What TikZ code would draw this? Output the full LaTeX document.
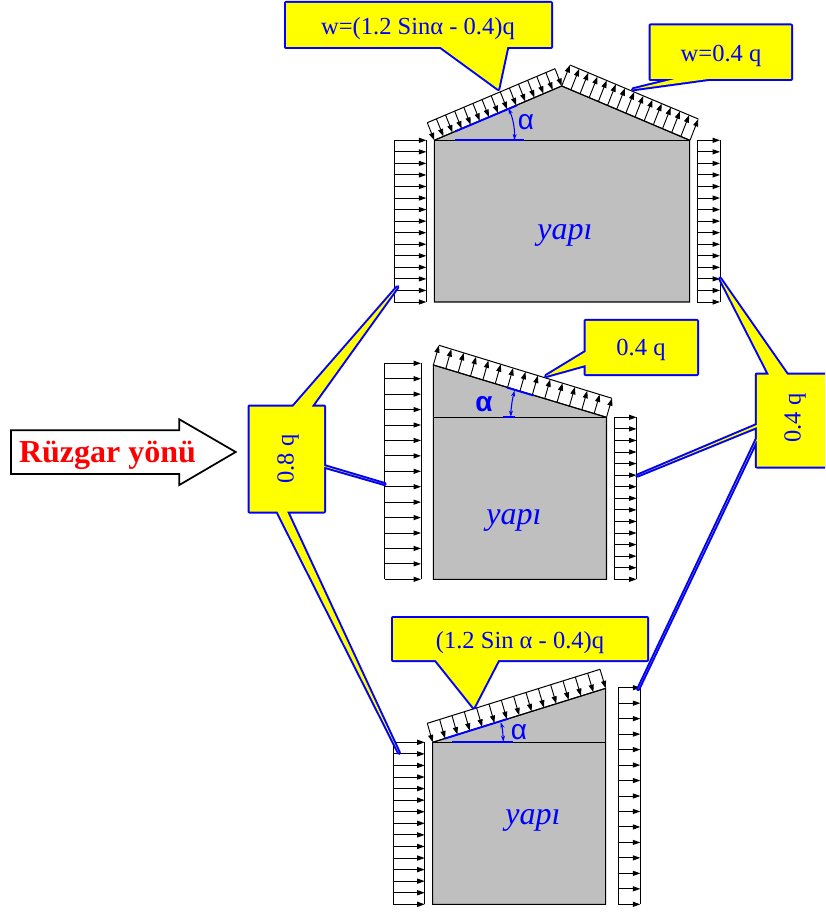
\documentclass[tikz,border=0pt]{standalone}
\usepackage{fontspec}
\setmainfont{Liberation Serif}
\newfontfamily\alphafont{Liberation Sans}
\usetikzlibrary{arrows.meta,calc}
\definecolor{wallgray}{RGB}{191,191,191}
\definecolor{callyellow}{RGB}{255,255,0}
\definecolor{callblue}{RGB}{0,0,255}
\definecolor{windred}{RGB}{255,0,0}
\tikzset{
  building/.style={draw=black,fill=wallgray,line width=0.8pt},
  ledge/.style={draw=black,line width=0.75pt},
  loadarrow/.style={draw=black,line width=0.7pt,-{Triangle[length=5.6pt,width=3.8pt]}},
  calledge/.style={draw=callblue,line width=3pt,line join=round},
  callfill/.style={fill=callyellow},
  calltext/.style={text=callblue,font=\fontsize{18.4}{20}\selectfont,inner sep=0pt},
  anglemark/.style={draw=callblue,line width=1.4pt},
  anglearc/.style={draw=callblue,line width=0.8pt,{Stealth[length=4.5pt,width=3pt]}-{Stealth[length=4.5pt,width=3pt]}},
  alphalabel/.style={text=callblue,font=\alphafont\fontsize{21}{23}\selectfont,inner sep=0pt},
  yapilabel/.style={text=callblue,font=\itshape\fontsize{24}{26}\selectfont,inner sep=0pt},
  windarrow/.style={draw=black,fill=white,line width=1.3pt,line join=miter},
  windtext/.style={text=windred,font=\bfseries\fontsize{24}{26}\selectfont,inner sep=0pt}
}
\newcommand{\loadpanel}[4]{%
  \draw[ledge] (#1) -- (#2);
  \draw[ledge] (#3) -- (#4);
  \foreach \k in {0,...,14}{
    \draw[loadarrow] ($(#1)!\k/14!(#2)$) -- ($(#3)!\k/14!(#4)$);
  }}
\newcommand{\callshape}[1]{\draw[calledge] #1; \fill[callfill] #1;}
\begin{document}
\begin{tikzpicture}[x=0.75pt,y=-0.75pt]
\useasboundingbox (0,0) rectangle (825,912);
\clip (0,0) rectangle (825,912);

% ---- top building
\draw[building] (434.3,140.3) -- (561.7,86) -- (689.7,140.3) -- (689.7,302) -- (434.3,302) -- cycle;
\draw[ledge] (434.3,140.3) -- (689.7,140.3);
\coordinate (ta) at (427.3,122.7); \coordinate (tb) at (555,68.7);
\coordinate (tc) at (434.3,140.3); \coordinate (td) at (561.7,86);
\loadpanel{ta}{tb}{tc}{td}
\coordinate (te) at (561.7,86); \coordinate (tf) at (690,140.3);
\coordinate (tg) at (570,65); \coordinate (th) at (698.3,119);
\loadpanel{te}{tf}{tg}{th}
\coordinate (tla) at (394,140.3); \coordinate (tlb) at (394,302);
\coordinate (tlc) at (426.3,140.3); \coordinate (tld) at (426.3,302);
\loadpanel{tla}{tlb}{tlc}{tld}
\coordinate (tra) at (697.3,140.3); \coordinate (trb) at (697.3,302);
\coordinate (trc) at (720,140.3); \coordinate (trd) at (720,302);
\loadpanel{tra}{trb}{trc}{trd}
\draw[anglemark] (455,131.5) -- (516.7,105.5);
\draw[anglemark] (455,140.3) -- (524,140.3);
\draw[anglearc] (508.3,108.3) .. controls (513,118) and (515,130) .. (514.3,140);
\node[alphalabel] (alphatop) at (526,122.5) {α};
\node[yapilabel] (yapitop) at (565,235) {yapı};

% ---- middle building
\draw[building] (433.4,365) -- (606.5,417.3) -- (606.5,579.3) -- (433.4,579.3) -- cycle;
\draw[ledge] (433.4,417.3) -- (606.5,417.3);
\coordinate (ma) at (433.4,365); \coordinate (mb) at (606.5,417.3);
\coordinate (mc) at (439,345.3); \coordinate (md) at (612,398.3);
\loadpanel{ma}{mb}{mc}{md}
\coordinate (mla) at (384.5,363.3); \coordinate (mlb) at (384.5,579.3);
\coordinate (mlc) at (421,363.3); \coordinate (mld) at (421,579.3);
\loadpanel{mla}{mlb}{mlc}{mld}
\coordinate (mra) at (614.4,417.3); \coordinate (mrb) at (614.4,579.3);
\coordinate (mrc) at (636.5,417.3); \coordinate (mrd) at (636.5,579.3);
\loadpanel{mra}{mrb}{mrc}{mrd}
\draw[anglemark] (507,387.6) -- (533.6,395.5);
\draw[anglemark] (502.5,417) -- (515.4,417);
\draw[anglearc] (514.6,390.7) .. controls (512.5,398) and (511,408) .. (510.8,416.7);
\node[alphalabel,font=\alphafont\bfseries\fontsize{21}{23}\selectfont] (alphamid) at (484,404) {α};
\node[yapilabel] (yapimid) at (514,520) {yapı};

% ---- bottom building
\draw[building] (432.7,742.3) -- (605.7,688.3) -- (605.7,904.3) -- (432.7,904.3) -- cycle;
\draw[ledge] (432.7,742.3) -- (605.7,742.3);
\coordinate (ba) at (427.3,723.3); \coordinate (bb) at (600,669.3);
\coordinate (bc) at (432.7,742.3); \coordinate (bd) at (605.7,688.3);
\loadpanel{ba}{bb}{bc}{bd}
\coordinate (bla) at (393.3,742.3); \coordinate (blb) at (393.3,904.3);
\coordinate (blc) at (424.7,742.3); \coordinate (bld) at (424.7,904.3);
\loadpanel{bla}{blb}{blc}{bld}
\coordinate (bra) at (618.3,687.7); \coordinate (brb) at (618.3,904.3);
\coordinate (brc) at (640.3,687.7); \coordinate (brd) at (640.3,904.3);
\loadpanel{bra}{brb}{brc}{brd}
\draw[anglemark] (445,738.5) -- (508.3,718.7);
\draw[anglemark] (451.7,742.3) -- (512.7,742.3);
\draw[anglearc] (500.7,722.3) .. controls (502.5,728) and (503,735) .. (503.3,741.7);
\node[alphalabel] (alphabot) at (519,732) {α};
\node[yapilabel] (yapibot) at (533,820) {yapı};

% ---- callouts
\callshape{(286,3) -- (551,3) -- (551,47) -- (507.3,47) -- (498.3,89) -- (440.7,47) -- (286,47) -- cycle}
\node[calltext] (cwone) at (418,29) {w=(1.2 Sinα - 0.4)q};

\callshape{(650.5,25.5) -- (791,25.5) -- (791,79) -- (708.3,79) -- (633,89.3) -- (675,79) -- (650.5,79) -- cycle}
\node[calltext] (cwtwo) at (721,56) {w=0.4 q};

\callshape{(585.5,321) -- (697,321) -- (697,374) -- (585.5,374) -- (585.5,365) -- (546,376) -- (585.5,352) -- cycle}
\node[calltext] (cmid) at (641,350) {0.4 q};

\callshape{(393,618) -- (647,618) -- (647,660) -- (498.3,660) -- (473.7,707.5) -- (435.7,660) -- (393,660) -- cycle}
\node[calltext] (cbot) at (520,643) {(1.2 Sin α - 0.4)q};

\callshape{(249.5,406.5) -- (293.4,406.5) -- (397.5,287) -- (311.6,406.5) -- (324,406.5) -- (324,466) -- (384.5,484) -- (324,466.6) -- (324,511.5) -- (287,511.5) -- (399,753) -- (277.4,511.5) -- (249.5,511.5) -- cycle}
\node[calltext,rotate=90] (cleft) at (288,459) {0.8 q};

\callshape{(756.8,374.5) -- (769,374.5) -- (720,278.5) -- (787,374.5) -- (832,374.5) -- (832,466.5) -- (756.8,466.5) -- (756.8,439.6) -- (638.3,689) -- (756.8,439) -- (756.8,427) -- (637.2,475.7) -- (756.8,425) -- cycle}
\node[calltext,rotate=90] (cright) at (795,418) {0.4 q};

% ---- wind arrow
\draw[windarrow] (11,430.3) -- (179.3,430.3) -- (179.3,419.3) -- (235.7,452) -- (179.3,485) -- (179.3,474) -- (11,474) -- cycle;
\node[windtext] (wind) at (107.5,455) {Rüzgar yönü};
\end{tikzpicture}
\end{document}
